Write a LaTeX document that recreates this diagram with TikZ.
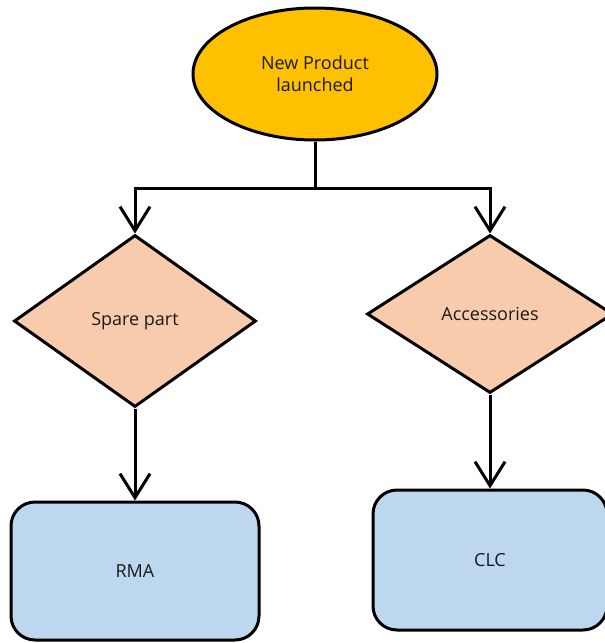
\documentclass[tikz,border=0pt]{standalone}
\usepackage{fontspec}
\setmainfont{Open Sans}
\usetikzlibrary{arrows.meta,shapes.geometric}
\definecolor{launchfill}{HTML}{FFC000}
\definecolor{choicefill}{HTML}{F8CBAD}
\definecolor{endfill}{HTML}{BDD7EE}
\definecolor{labeltext}{HTML}{1A1A1A}

\begin{document}
\begin{tikzpicture}[x=1pt, y=-1pt, line width=3pt,
  every node/.style={text=labeltext, font=\fontsize{18}{22}\selectfont, align=center},
  start/.style={ellipse, draw, fill=launchfill, minimum width=244pt, minimum height=132pt},
  choice/.style={diamond, draw, fill=choicefill, inner sep=0pt},
  finish/.style={rectangle, rounded corners=24pt, draw, fill=endfill, minimum height=138pt},
  arr/.style={-{Straight Barb[length=24pt,width=30pt]}}]
  \clip (0,0) rectangle (605,643);
  \node [start] (launch) at (315,74) {New Product\\launched};
  \node [choice, minimum width=242pt, minimum height=172pt] (spare) at (135,321) {Spare part};
  \node [choice, minimum width=246pt, minimum height=158pt] (access) at (490,314) {Accessories};
  \node [finish, minimum width=248pt] (rma) at (135,571) {RMA};
  \node [finish, minimum width=234pt, minimum height=140pt] (clc) at (490,560) {CLC};
  \coordinate (split) at (315,188);
  \draw [arr] (launch.south) -- (split) -| (spare.north);
  \draw [arr] (split) -| (access.north);
  \draw [arr] (spare.south) -- (rma.north);
  \draw [arr] (access.south) -- (clc.north);
\end{tikzpicture}
\end{document}
